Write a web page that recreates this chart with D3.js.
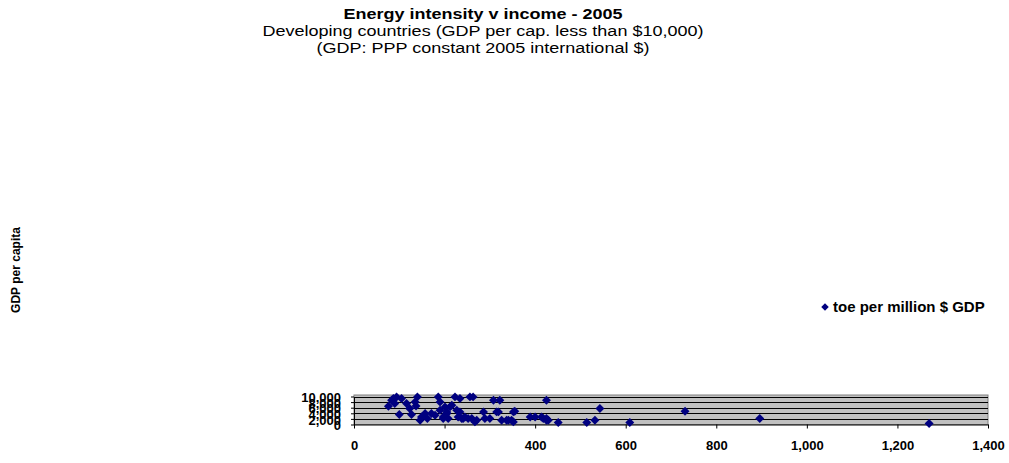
<!DOCTYPE html>
<html><head><meta charset="utf-8">
<script src="https://cdn.jsdelivr.net/npm/d3@7"></script>
<style>
body{margin:0;background:#fff;}
svg{display:block;font-family:"Liberation Sans",Arial,sans-serif;}
</style></head>
<body><svg id="c" width="1009" height="463"></svg>
<script>
// toe per million $ GDP (x) vs GDP per capita (y)
const energyIntensity = [76,87,94,105,100,116,123,127,135,140,137,146,149,157,162,171,179,186,190,190,197,205,212,223,230,234,238,245,256,263,252,260,267,286,289,300,308,319,322,326,337,352,352,389,400,414,425,425,451,514,532,543,609,731,896,1270,
  201,216,205,227,234,197,208,241,271,315,341,348,355,425,418,429,90,83];
const gdpPerCapita = [6540,9290,9850,9290,3570,7500,5710,3570,8070,9860,6640,1540,2710,3930,2140,3930,3320,9860,8070,5100,2710,3930,6290,9860,2710,9290,2140,2710,9860,9860,2140,2140,930,4500,2140,2140,8680,4500,8680,1540,1540,4500,930,2710,2710,2710,8680,1540,710,710,1540,5710,710,4750,2140,360,
  6290,6890,4500,5100,4500,2140,2140,2140,1540,4500,1540,1540,4750,2140,2140,1540,7500,8680];
const xTicks = [0,200,400,600,800,1000,1200,1400];
const yTicks = [0,2000,4000,6000,8000,10000];
const seriesName = "toe per million $ GDP";
const titleLines = ["Energy intensity v income - 2005","Developing countries (GDP per cap. less than $10,000)","(GDP: PPP constant 2005 international $)"];
const yTitle = "GDP per capita";

const svg = d3.select("#c");
const fmt = d3.format(",");
const L=354, R=988, T=396.5, B=424.5;
const x = d3.scaleLinear().domain([0,1400]).range([L,R]);
const y = d3.scaleLinear().domain([0,10000]).range([B,T]);

// plot area
svg.append("rect").attr("x",L).attr("y",T-1.5).attr("width",R-L).attr("height",B-T+1.5)
  .attr("fill","#c0c0c0").attr("stroke","#808080").attr("stroke-width",1);
svg.append("g").selectAll("line").data(yTicks.slice(1)).join("line")
  .attr("x1",L).attr("x2",R).attr("y1",d=>Math.round(y(d))+0.5).attr("y2",d=>Math.round(y(d))+0.5)
  .attr("stroke","#000").attr("stroke-width",1);

// axes
const xa = svg.append("g").attr("transform",`translate(0,${B})`)
  .call(d3.axisBottom(x).tickValues(xTicks).tickFormat(fmt).tickSizeInner(4).tickSizeOuter(0).tickPadding(12));
const ya = svg.append("g").attr("transform",`translate(${L},0)`)
  .call(d3.axisLeft(y).tickValues(yTicks).tickFormat(fmt).tickSizeInner(3).tickSizeOuter(0).tickPadding(10));
[xa,ya].forEach(a=>{
  a.select(".domain").attr("stroke","#000");
  a.selectAll(".tick line").attr("stroke","#000");
  a.selectAll("text").attr("font-size","13px").attr("font-weight","bold").attr("fill","#000")
   .attr("font-family","'Liberation Sans',Arial,sans-serif");
});
ya.selectAll("text").attr("dy","0.4em");

// points (rotated squares = diamonds)
const diamond = d3.symbol().type(d3.symbolSquare).size(40);
svg.append("g").selectAll("path").data(energyIntensity.map((v,i)=>[v,gdpPerCapita[i]])).join("path")
  .attr("d",diamond).attr("transform",d=>`translate(${x(d[0])},${y(d[1])}) rotate(45)`)
  .attr("fill","#000080");

// titles (slightly wide lettering, as in the original)
const tg = svg.append("g").attr("text-anchor","middle").attr("fill","#000");
const tys = [19,36,53];
titleLines.forEach((t,i)=>{
  const el = tg.append("text").attr("x",483).attr("y",tys[i]).attr("font-size","18px")
    .attr("font-weight", i===0?"bold":"normal").text(t);
  const w = el.node().getComputedTextLength();
  el.attr("font-size","15.5px").attr("textLength",w).attr("lengthAdjust","spacingAndGlyphs");
});

svg.append("text").attr("transform","translate(20,270) rotate(-90)").attr("text-anchor","middle")
  .attr("font-size","12px").attr("font-weight","bold").text(yTitle);

// legend
svg.append("path").attr("d",d3.symbol().type(d3.symbolSquare).size(28)).attr("transform","translate(825,307) rotate(45)").attr("fill","#000080");
svg.append("text").attr("x",833).attr("y",312).attr("font-size","15px").attr("font-weight","bold").text(seriesName);
</script></body></html>
